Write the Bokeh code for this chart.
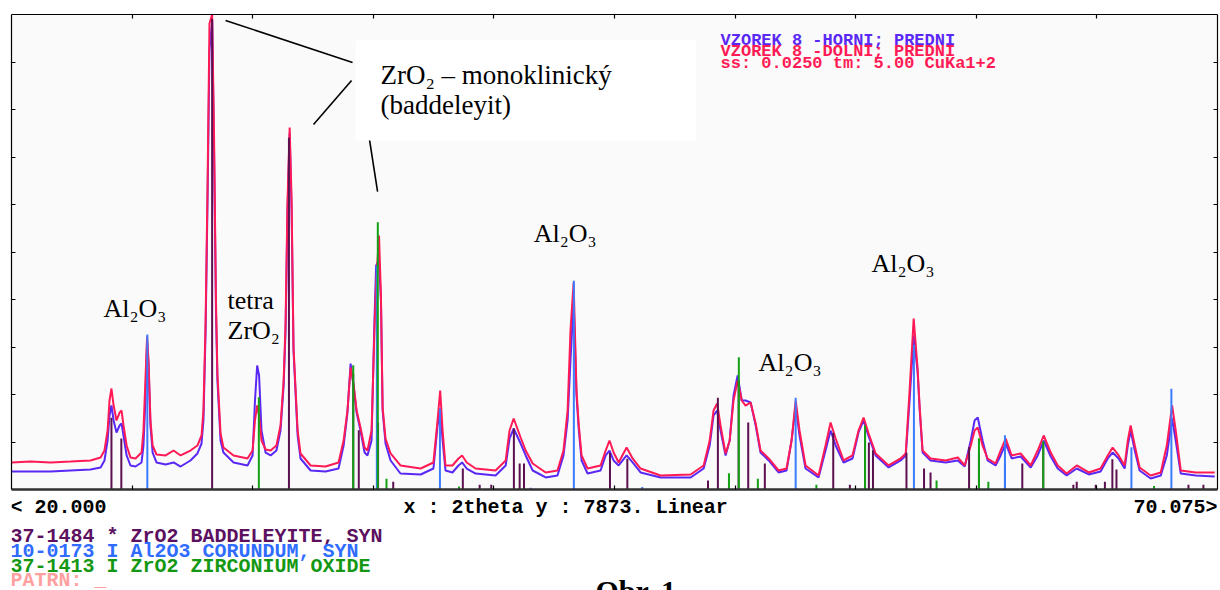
from bokeh.plotting import figure
from bokeh.models import Range1d, LinearAxis, FixedTicker, Label, BoxAnnotation, ColumnDataSource
from bokeh.layouts import column
from bokeh.embed import file_html
from bokeh.resources import INLINE

# ---------------- data (2theta in degrees, intensity in counts) ----------------
two_theta = [
    20.00, 20.79, 21.62, 22.45, 23.28, 23.70, 23.86, 23.99, 24.07, 24.15,
    24.24, 24.36, 24.49, 24.57, 24.65, 24.78, 24.94, 25.15, 25.40, 25.48,
    25.56, 25.63, 25.69, 25.77, 25.86, 26.02, 26.40, 26.73, 27.02, 27.43,
    27.72, 27.89, 27.97, 28.06, 28.14, 28.22, 28.33, 28.41, 28.49, 28.55,
    28.68, 28.80, 29.22, 29.80, 30.01, 30.11, 30.20, 30.28, 30.38, 30.55,
    30.76, 31.00, 31.17, 31.30, 31.38, 31.46, 31.55, 31.63, 31.71, 31.88,
    32.00, 32.42, 33.04, 33.58, 33.79, 33.95, 34.08, 34.20, 34.33, 34.49,
    34.66, 34.78, 34.95, 35.07, 35.14, 35.26, 35.34, 35.41, 35.53, 35.74,
    36.15, 36.99, 37.52, 37.69, 37.80, 37.90, 38.02, 38.31, 38.56, 38.71,
    38.90, 39.27, 40.10, 40.52, 40.68, 40.85, 41.14, 41.35, 41.64, 42.18,
    42.67, 42.92, 43.09, 43.21, 43.34, 43.46, 43.55, 43.67, 43.92, 44.46,
    44.67, 44.83, 45.00, 45.21, 45.54, 45.79, 46.12, 46.95, 48.20, 48.74,
    48.99, 49.15, 49.30, 49.44, 49.65, 49.82, 49.98, 50.15, 50.32, 50.48,
    50.69, 50.90, 51.10, 51.44, 51.85, 52.18, 52.39, 52.56, 52.72, 52.97,
    53.51, 53.80, 54.01, 54.22, 54.55, 54.92, 55.17, 55.38, 55.59, 55.88,
    56.42, 56.92, 57.13, 57.29, 57.46, 57.62, 57.71, 57.83, 58.16, 58.79,
    59.29, 59.58, 59.83, 59.99, 60.12, 60.32, 60.53, 60.86, 61.07, 61.28,
    61.53, 61.90, 62.32, 62.61, 62.86, 63.15, 63.44, 63.81, 64.23, 64.73,
    65.22, 65.52, 65.72, 65.97, 66.22, 66.35, 66.47, 66.64, 66.84, 67.30,
    67.72, 67.97, 68.19, 68.34, 68.55, 69.17, 69.96,
]

# VZOREK 8 - DOLNI (red trace)
dolni_counts = [
    448, 464, 448, 464, 481, 530, 646, 978, 1475, 1674,
    1392, 1144, 1276, 1309, 1061, 729, 530, 514, 613, 978,
    1807, 2536, 2138, 1144, 729, 580, 564, 646, 564, 646,
    729, 895, 1309, 2801, 5006, 7724, 7873, 5868, 3133, 1923,
    928, 696, 564, 514, 646, 1144, 1392, 1227, 812, 663,
    646, 729, 1061, 1807, 2768, 4757, 6000, 4790, 2354, 978,
    597, 398, 381, 448, 812, 1309, 2022, 1757, 1309, 1028,
    696, 646, 978, 2635, 3414, 4210, 3216, 1359, 845, 597,
    398, 348, 448, 1144, 1641, 978, 398, 398, 514, 564,
    448, 348, 315, 481, 978, 1177, 862, 646, 431, 282,
    315, 646, 1309, 2635, 3431, 1641, 1094, 564, 348, 398,
    646, 812, 613, 448, 696, 514, 348, 232, 249, 398,
    812, 1309, 1425, 1061, 597, 812, 1475, 1807, 1475, 1392,
    1442, 1094, 646, 514, 315, 348, 812, 1475, 978, 398,
    232, 729, 1111, 845, 481, 564, 978, 1193, 928, 597,
    398, 514, 597, 1641, 2834, 2022, 1359, 646, 514, 481,
    530, 398, 729, 978, 1028, 729, 514, 431, 646, 845,
    564, 597, 398, 646, 895, 613, 398, 265, 398, 282,
    348, 564, 696, 564, 398, 812, 1061, 729, 365, 232,
    282, 729, 1392, 978, 315, 282, 282,
]

# VZOREK 8 - HORNI (blue trace)
horni_counts = [
    298, 298, 298, 315, 332, 365, 481, 812, 1227, 1392,
    1144, 945, 1061, 1094, 895, 564, 398, 381, 448, 729,
    1475, 2470, 2055, 1061, 613, 448, 414, 448, 381, 481,
    597, 762, 1144, 2635, 4790, 7276, 7774, 5619, 2967, 1807,
    812, 613, 448, 398, 564, 1475, 2055, 1890, 978, 613,
    564, 646, 978, 1724, 2635, 4624, 5901, 4624, 2304, 895,
    514, 315, 298, 348, 729, 1276, 2088, 1724, 1276, 978,
    613, 564, 812, 2801, 3713, 3796, 3133, 1309, 762, 481,
    265, 249, 348, 1061, 1343, 812, 315, 282, 398, 448,
    348, 265, 232, 398, 845, 1011, 762, 564, 315, 199,
    232, 564, 1144, 2138, 3133, 1558, 1011, 481, 265, 315,
    564, 646, 481, 398, 564, 448, 282, 199, 199, 348,
    729, 1227, 1309, 978, 564, 812, 1558, 1890, 1475, 1475,
    1442, 1061, 613, 481, 282, 315, 812, 1392, 895, 348,
    199, 646, 978, 729, 448, 514, 945, 1144, 878, 564,
    365, 481, 564, 1475, 2553, 1972, 1309, 613, 481, 448,
    481, 381, 812, 1144, 1193, 812, 481, 398, 564, 762,
    514, 547, 365, 564, 812, 547, 348, 232, 348, 249,
    298, 514, 613, 514, 348, 729, 978, 646, 315, 182,
    232, 564, 1177, 812, 265, 232, 215,
]

# 37-1484 ZrO2 baddeleyite reference lines
badd_pos = [24.15, 24.56, 28.33, 31.52, 34.19, 34.42, 35.22, 35.85, 38.74, 39.44,
            39.92, 40.86, 41.10, 41.28, 44.85, 45.57, 48.92, 49.33, 50.19, 50.59,
            51.28, 54.12, 54.81, 55.44, 55.60, 55.77, 57.16, 57.89, 58.16, 59.76,
            60.17, 61.25, 61.97, 62.84, 64.09, 64.23, 65.02, 65.40, 65.71, 65.88,
            68.87, 69.49]
badd_int = [1190, 845, 7800, 5830, 1920, 980, 1110, 130, 350, 80,
            80, 1010, 430, 430, 610, 510, 150, 1520, 1810, 1110,
            430, 940, 80, 970, 780, 650, 610, 350, 280, 700,
            610, 430, 430, 740, 80, 130, 80, 130, 500, 330,
            80, 80]

# 10-0173 Al2O3 corundum reference lines
cor_pos = [25.64, 35.17, 37.79, 41.55, 43.35, 46.19, 52.56, 57.47, 61.25, 66.50, 68.16]
cor_int = [2570, 3710, 1340, 30, 3460, 40, 1520, 2400, 900, 700, 1670]

# 37-1413 ZrO2 zirconium oxide reference lines
zro_pos = [30.27, 34.19, 35.21, 35.57, 38.58, 49.79, 50.20, 50.99, 53.42, 55.44,
           58.41, 60.17, 60.56, 62.84, 67.44]
zro_int = [1530, 2060, 4430, 180, 50, 270, 2190, 180, 80, 1060,
           150, 850, 130, 800, 60]

x_ticks = [25.0075, 30.015, 35.0225, 40.03, 45.0375, 50.045, 55.0525, 60.06, 65.0675]
y_ticks = [787.3, 1574.6, 2361.9, 3149.2, 3936.5, 4723.8, 5511.1, 6298.4, 7085.7]

x_start, x_end = 20.000, 70.075
y_max = 7873

header_lines = ["VZOREK 8 -HORNI;  PREDNI", "VZOREK 8 -DOLNI;  PREDNI", "ss: 0.0250 tm:    5.00 CuKa1+2"]
legend_lines = ["37-1484 * ZrO2 BADDELEYITE, SYN", "10-0173 I Al2O3 CORUNDUM, SYN",
                "37-1413 I ZrO2 ZIRCONIUM OXIDE", "PATRN: _"]

# ---------------- main chart ----------------
p = figure(width=1220, height=491, x_range=Range1d(x_start, x_end), y_range=Range1d(0, y_max),
           output_backend="svg", toolbar_location=None,
           min_border_left=11, min_border_right=3, min_border_top=14, min_border_bottom=2,
           background_fill_color="#fafafa", border_fill_color="white", outline_line_color=None)
p.grid.visible = False


def style_axis(ax, ticks, lw=1.2, col="black"):
    ax.ticker = FixedTicker(ticks=[], minor_ticks=ticks)
    ax.major_tick_line_color = None
    ax.minor_tick_in = 4
    ax.minor_tick_out = 0
    ax.minor_tick_line_color = "black"
    ax.minor_tick_line_width = 1.2
    ax.axis_line_color = col
    ax.axis_line_width = lw
    ax.axis_label = None


style_axis(p.xaxis[0], x_ticks, lw=2.4, col="#303030")
style_axis(p.yaxis[0], y_ticks)
top_ax = LinearAxis()
right_ax = LinearAxis()
style_axis(top_ax, x_ticks)
style_axis(right_ax, y_ticks)
p.add_layout(top_ax, "above")
p.add_layout(right_ax, "right")

src = ColumnDataSource(dict(x=two_theta, red=dolni_counts, blue=horni_counts))
p.line("x", "blue", source=src, line_color="#5a28f5", line_width=2)
p.line("x", "red", source=src, line_color="#ff1a55", line_width=2)

p.segment(x0=badd_pos, y0=[0] * len(badd_pos), x1=badd_pos, y1=badd_int, line_color="#5c1050", line_width=2)
p.segment(x0=cor_pos, y0=[0] * len(cor_pos), x1=cor_pos, y1=cor_int, line_color="#3a7cff", line_width=2)
p.segment(x0=zro_pos, y0=[0] * len(zro_pos), x1=zro_pos, y1=zro_int, line_color="#14a014", line_width=2)

# annotation box and leader lines
p.add_layout(BoxAnnotation(left=34.29, right=48.41, bottom=5785, top=7442,
                           fill_color="white", fill_alpha=1.0, line_color=None))
lead_x0 = [28.89, 32.54, 34.58]
lead_y0 = [7774, 6050, 6531]
lead_x1 = [34.16, 34.12, 35.20]
lead_y1 = [7078, 6779, 4939]
p.segment(x0=lead_x0, y0=lead_y0, x1=lead_x1, y1=lead_y1, line_color="black", line_width=1.6)

serif = "Liberation Serif"
annots = [
    ("Al₂O₃", 23.82, 3000, "26px"),
    ("tetra", 28.97, 3133, "26px"),
    ("ZrO₂", 28.97, 2635, "26px"),
    ("ZrO₂ – monoklinický", 35.32, 6862, "27px"),
    ("(baddeleyit)", 35.32, 6381, "27px"),
    ("Al₂O₃", 41.68, 4243, "26px"),
    ("Al₂O₃", 51.02, 2105, "26px"),
    ("Al₂O₃", 55.71, 3746, "26px"),
]
for t, x, y, fs in annots:
    p.add_layout(Label(x=x, y=y, text=t, text_font=serif, text_font_size=fs,
                       text_color="black", text_baseline="alphabetic", text_align="left"))

mono = "Liberation Mono"
header_colors = ["#5a28f5", "#ff1a55", "#ff1a55"]
header_y = [7442, 7260, 7061]
for t, c, y in zip(header_lines, header_colors, header_y):
    p.add_layout(Label(x=49.44, y=y, text=t, text_font=mono, text_font_size="17px",
                       text_font_style="bold", text_color=c, text_baseline="alphabetic"))

# ---------------- text strip below the chart (same x scale) ----------------
q = figure(width=1220, height=99, x_range=p.x_range, y_range=Range1d(-1674, -33),
           output_backend="svg", toolbar_location=None, x_axis_type=None, y_axis_type=None,
           min_border_left=11, min_border_right=3, min_border_top=0, min_border_bottom=0,
           background_fill_color="white", border_fill_color="white", outline_line_color=None)
q.grid.visible = False

q.add_layout(Label(x=19.96, y=-290, text="< 20.000", text_font=mono, text_font_size="20px",
                   text_font_style="bold", text_color="black", text_baseline="alphabetic"))
q.add_layout(Label(x=36.28, y=-290, text="x : 2theta y :  7873. Linear", text_font=mono,
                   text_font_size="20px", text_font_style="bold", text_color="black",
                   text_baseline="alphabetic"))
q.add_layout(Label(x=70.08, y=-290, text="70.075>", text_font=mono, text_font_size="20px",
                   text_font_style="bold", text_color="black", text_baseline="alphabetic",
                   text_align="right"))

legend_colors = ["#5c1060", "#2f6cff", "#149814", "#ffa0a0"]
legend_y = [-780, -1030, -1270, -1500]
for t, c, y in zip(legend_lines, legend_colors, legend_y):
    q.add_layout(Label(x=19.96, y=y, text=t, text_font=mono, text_font_size="20px",
                       text_font_style="bold", text_color=c, text_baseline="alphabetic"))

q.add_layout(Label(x=44.25, y=-1674, text="Obr. 1", text_font=serif, text_font_size="30px",
                   text_font_style="bold", text_color="black", text_baseline="alphabetic"))

layout = column(p, q, spacing=0)
open("out.html", "w").write(file_html(layout, INLINE))
